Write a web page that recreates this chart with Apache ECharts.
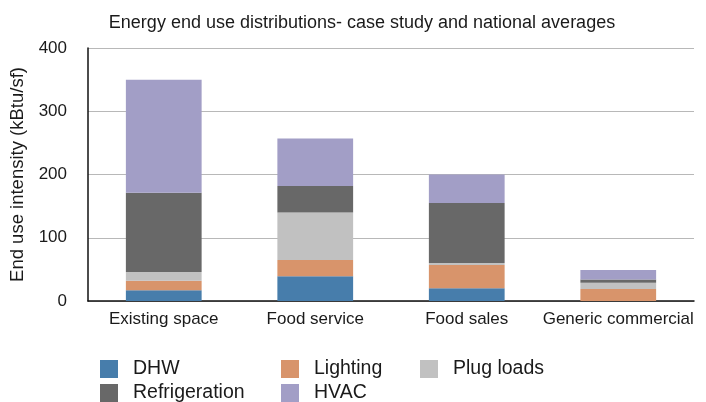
<!DOCTYPE html>
<html>
<head>
<meta charset="utf-8">
<script src="https://cdn.jsdelivr.net/npm/echarts@6/dist/echarts.min.js"></script>
<style>
  html, body { margin: 0; padding: 0; background: #fff; }
  #chart { width: 706px; height: 402px; }
</style>
</head>
<body>
<div id="chart"></div>
<script>
// Building types compared
const categories = ['Existing space', 'Food service', 'Food sales', 'Generic commercial'];

// End use intensity by end use (kBtu/sf)
const dhw           = [17, 39, 20, 0];
const lighting      = [15, 26, 37, 19];
const plugLoads     = [14, 75, 3, 10];
const refrigeration = [125, 42, 95, 5];
const hvac          = [179, 75, 45, 15];

const yTicks = [0, 100, 200, 300, 400];

const FONT = '"Liberation Sans", Arial, Helvetica, sans-serif';

const seriesDefs = [
  { name: 'DHW', data: dhw, color: '#477dab' },
  { name: 'Lighting', data: lighting, color: '#d8946b' },
  { name: 'Plug loads', data: plugLoads, color: '#c1c1c1' },
  { name: 'Refrigeration', data: refrigeration, color: '#686868' },
  { name: 'HVAC', data: hvac, color: '#a29ec6' }
];

// Legend laid out as a grid: one legend block per entry
const legendSlots = {
  'DHW':           { left: 100, top: 359 },
  'Lighting':      { left: 281, top: 359 },
  'Plug loads':    { left: 420, top: 359 },
  'Refrigeration': { left: 100, top: 383 },
  'HVAC':          { left: 281, top: 383 }
};

const chart = echarts.init(document.getElementById('chart'), null, { renderer: 'canvas' });

chart.setOption({
  animation: false,
  backgroundColor: '#ffffff',
  title: {
    text: 'Energy end use distributions- case study and national averages',
    left: 357,
    top: 9,
    textAlign: 'center',
    textStyle: { fontFamily: FONT, fontSize: 18, fontWeight: 'normal', color: '#1a1a1a' }
  },
  legend: seriesDefs.map(s => ({
    data: [s.name],
    left: legendSlots[s.name].left,
    top: legendSlots[s.name].top,
    icon: 'rect',
    itemWidth: 18,
    itemHeight: 18,
    itemGap: 0,
    padding: 0,
    selectedMode: false,
    textStyle: { fontFamily: FONT, fontSize: 19.5, color: '#1a1a1a', padding: [0, 0, 0, 10] }
  })),
  grid: { left: 88, right: 12, top: 48, bottom: 101, containLabel: false },
  xAxis: {
    type: 'category',
    data: categories,
    axisLine: { lineStyle: { color: '#111', width: 1.5 } },
    axisTick: { show: false },
    axisLabel: { interval: 0, fontFamily: FONT, fontSize: 17, color: '#1a1a1a', margin: 10 }
  },
  yAxis: {
    type: 'value',
    min: yTicks[0],
    max: yTicks[yTicks.length - 1],
    interval: 100,
    name: 'End use intensity (kBtu/sf)',
    nameLocation: 'middle',
    nameGap: 57,
    nameTextStyle: { fontFamily: FONT, fontSize: 18.5, color: '#1a1a1a' },
    axisLine: { show: true, lineStyle: { color: '#111', width: 1.5 } },
    axisTick: { show: false },
    axisLabel: { fontFamily: FONT, fontSize: 17, color: '#1a1a1a', margin: 21 },
    splitLine: { lineStyle: { color: '#b8b8b8', width: 1 } }
  },
  series: seriesDefs.map(s => ({
    name: s.name,
    type: 'bar',
    stack: 'total',
    barWidth: '50%',
    data: s.data,
    itemStyle: { color: s.color }
  }))
});
</script>
</body>
</html>
